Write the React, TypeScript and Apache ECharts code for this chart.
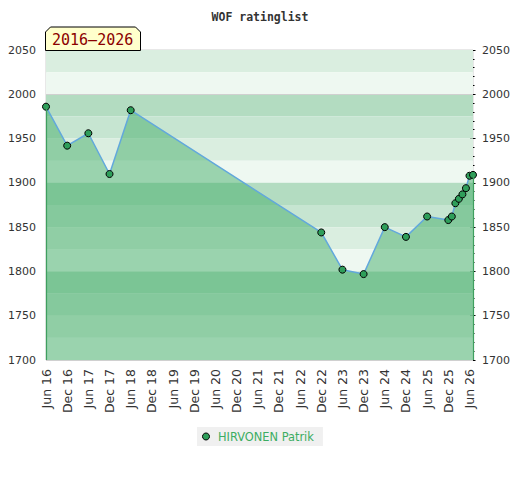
import React, { useEffect, useRef } from "react";
import * as echarts from "echarts";

const playerName = "HIRVONEN Patrik";
const chartTitle = "WOF ratinglist";
const periodLabel = "2016–2026";
const listDates = [
  "2016-06", "2016-12", "2017-06", "2017-12", "2018-06",
  "2022-12", "2023-06", "2023-12", "2024-06", "2024-12",
  "2025-06", "2025-12", "2026-01", "2026-02", "2026-03",
  "2026-04", "2026-05", "2026-06", "2026-07",
];
const ratings = [
  1986, 1942, 1956, 1910, 1982,
  1844, 1802, 1797, 1850, 1839,
  1862, 1858, 1862, 1877, 1882,
  1887, 1894, 1908, 1909,
];
const monthNames = ["Jan", "Feb", "Mar", "Apr", "May", "Jun", "Jul", "Aug", "Sep", "Oct", "Nov", "Dec"];
const bandColors = ["#b3dcc1", "#c6e5d1", "#daeee0", "#eef8f1"];
const yMin = 1700;
const yMax = 2050;
const bandStep = 25;

const START_YEAR = 2016;
const START_MONTH = 5; // June, 0-based

function toMonthIndex(d: string): number {
  const [y, m] = d.split("-").map(Number);
  return (y - START_YEAR) * 12 + (m - 1) - START_MONTH;
}

function monthLabel(v: number): string {
  if (v % 6 !== 0) return "";
  const total = START_MONTH + v;
  const y = START_YEAR + Math.floor(total / 12);
  const m = total % 12;
  return monthNames[m] + " " + String(y % 100).padStart(2, "0");
}

export default function App() {
  const ref = useRef<HTMLDivElement>(null);
  useEffect(() => {
    if (!ref.current) return;
    const chart = echarts.init(ref.current, null, { renderer: "svg" });
    const points = listDates.map((d, i) => [toMonthIndex(d), ratings[i]]);
    const xMax = points[points.length - 1][0];

    const bands: any[] = [];
    for (let top = yMax; top > yMin; top -= bandStep) {
      const idx = (((2100 - top) / bandStep) % 4 + 4) % 4;
      bands.push([
        { yAxis: top, itemStyle: { color: bandColors[idx], opacity: 1 } },
        { yAxis: top - bandStep },
      ]);
    }

    const first = points[0];
    const last = points[points.length - 1];
    const font = "DejaVu Sans, sans-serif";
    const yLabel = (v: number) => String(v);

    chart.setOption({
      animation: false,
      title: {
        text: chartTitle,
        left: "center",
        top: 6,
        textStyle: {
          fontFamily: "DejaVu Sans Mono, monospace",
          fontWeight: "bold",
          fontSize: 11.5,
          color: "#333",
        },
      },
      legend: {
        data: [playerName],
        left: 197,
        top: 427,
        icon: "circle",
        itemWidth: 14,
        itemHeight: 7,
        padding: [4, 9, 4, 5],
        backgroundColor: "#f0f0f0",
        borderRadius: 0,
        itemStyle: { color: "#2e9e5a", borderColor: "#000", borderWidth: 1 },
        textStyle: { color: "#3cad62", fontSize: 11.4, fontFamily: font },
      },
      grid: {
        left: 46,
        right: 47,
        top: 50,
        bottom: 120,
        show: true,
        borderColor: "#d0d0d0",
        borderWidth: 1,
        backgroundColor: "transparent",
      },
      xAxis: {
        type: "value",
        min: 0,
        max: xMax,
        interval: 6,
        axisLine: { show: false },
        axisTick: { show: false },
        splitLine: { show: false },
        axisLabel: {
          rotate: 90,
          margin: 9,
          color: "#333",
          fontSize: 12.5,
          fontFamily: font,
          showMaxLabel: false,
          formatter: (v: number) => monthLabel(v),
        },
      },
      yAxis: [
        {
          type: "value",
          min: yMin,
          max: yMax,
          interval: 50,
          position: "left",
          axisLine: { show: false },
          axisTick: { show: false },
          splitLine: { show: false },
          axisLabel: { color: "#333", fontSize: 11, fontFamily: font, margin: 10, formatter: yLabel },
        },
        {
          type: "value",
          min: yMin,
          max: yMax,
          interval: 50,
          position: "right",
          offset: -3,
          axisLine: { show: false },
          axisTick: { show: true, length: 5.5, lineStyle: { color: "#000" } },
          minorTick: { show: true, splitNumber: 5, length: 4.5, lineStyle: { color: "#000", width: 1 } },
          splitLine: { show: false },
          minorSplitLine: { show: false },
          axisLabel: { color: "#333", fontSize: 11, fontFamily: font, margin: 12, formatter: yLabel },
        },
      ],
      graphic: [
        {
          type: "polygon",
          z: 100,
          shape: {
            points: [
              [45.5, 32], [50.5, 27], [135.5, 27], [140.5, 32], [140.5, 50.5], [45.5, 50.5],
            ],
          },
          style: { fill: "#ffffcc", stroke: "#000", lineWidth: 1 },
        },
        {
          type: "text",
          z: 101,
          x: 52,
          y: 40,
          style: {
            text: periodLabel,
            fill: "#8b0000",
            font: "15px 'DejaVu Sans Mono', monospace",
            verticalAlign: "middle",
          },
        },
      ],
      series: [
        {
          name: playerName,
          type: "line",
          data: points,
          yAxisIndex: 0,
          symbol: "circle",
          symbolSize: 7,
          itemStyle: { color: "#2e9e5a", borderColor: "#000", borderWidth: 1 },
          lineStyle: { color: "#62a8dc", width: 1.5 },
          areaStyle: { color: "rgb(62,172,101)", opacity: 0.48, origin: "start" },
          markArea: { silent: true, data: bands },
          markLine: {
            silent: true,
            symbol: ["none", "none"],
            label: { show: false },
            data: [
              [
                { coord: [first[0], yMin], lineStyle: { color: "#d0d0d0", width: 1, type: "solid" } },
                { coord: [xMax, yMin] },
              ],
              [
                { coord: [0, 2000], lineStyle: { color: "#d0d0d0", width: 1, type: "solid" } },
                { coord: [xMax, 2000] },
              ],
              [
                { coord: [first[0], first[1]], lineStyle: { color: "#3f9f5f", width: 1.2, type: "solid" } },
                { coord: [first[0], yMin] },
              ],
              [
                { coord: [last[0], last[1]], lineStyle: { color: "#3f9f5f", width: 1.2, type: "solid" } },
                { coord: [last[0], yMin] },
              ],
            ],
          },
        },
      ],
    });
    return () => chart.dispose();
  }, []);
  return (
    <div
      ref={ref}
      style={{ position: "fixed", left: 0, top: 0, width: 520, height: 480, background: "#fff" }}
    />
  );
}
